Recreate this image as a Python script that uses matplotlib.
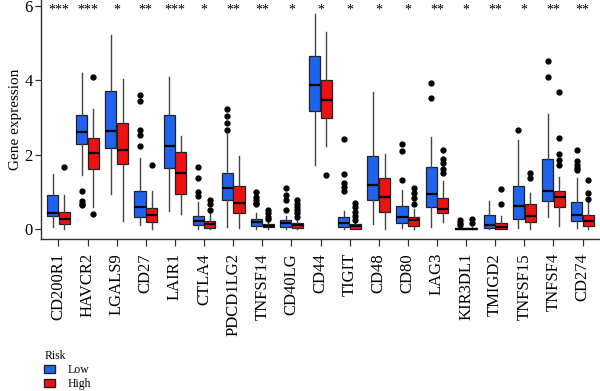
import matplotlib
matplotlib.use("Agg")
import matplotlib.pyplot as plt
from matplotlib.patches import Patch

plt.rcParams["font.family"] = ["Liberation Serif", "DejaVu Serif"]

genes = ["CD200R1", "HAVCR2", "LGALS9", "CD27", "LAIR1", "CTLA4", "PDCD1LG2",
         "TNFSF14", "CD40LG", "CD44", "TIGIT", "CD48", "CD80", "LAG3", "KIR3DL1",
         "TMIGD2", "TNFSF15", "TNFSF4", "CD274"]
signif = ["***", "***", "*", "**", "***", "*", "**", "**", "*", "*", "*", "*",
          "*", "**", "*", "**", "*", "**", "**"]

# (whislo, q1, median, q3, whishi)
low_stats = [
    (0.06, 0.35, 0.43, 0.92, 1.47),
    (1.46, 2.28, 2.62, 3.07, 4.20),
    (0.95, 2.17, 2.64, 3.71, 5.22),
    (0.11, 0.33, 0.60, 1.01, 1.90),
    (0.48, 1.64, 2.22, 3.06, 4.10),
    (0.00, 0.10, 0.22, 0.35, 0.73),
    (0.06, 0.79, 1.11, 1.51, 2.55),
    (0.00, 0.08, 0.19, 0.27, 0.42),
    (0.00, 0.06, 0.17, 0.24, 0.35),
    (1.72, 3.17, 3.87, 4.66, 5.78),
    (0.00, 0.04, 0.15, 0.31, 0.49),
    (0.13, 0.79, 1.17, 1.97, 3.68),
    (0.03, 0.15, 0.33, 0.61, 1.06),
    (0.06, 0.60, 0.93, 1.66, 2.48),
    (0.00, 0.00, 0.00, 0.03, 0.06),
    (0.00, 0.02, 0.11, 0.37, 0.75),
    (0.03, 0.27, 0.61, 1.15, 2.39),
    (0.33, 0.75, 1.01, 1.89, 3.08),
    (0.03, 0.22, 0.37, 0.72, 1.37),
]
low_out = [
    [], [1.02, 0.74, 0.68, 0.64], [], [3.60, 3.44, 2.66, 2.52, 2.22], [],
    [1.66, 1.37, 1.00, 0.90], [3.24, 3.05, 2.84, 2.66],
    [0.99, 0.86, 0.77, 0.71, 0.67], [1.10, 0.92, 0.79, 0.51], [],
    [2.41, 1.48, 1.24, 1.13, 1.02], [], [2.28, 2.11, 1.33], [3.93, 3.53],
    [0.24, 0.17, 0.11], [], [2.67], [4.52, 4.08],
    [2.13, 1.84, 1.71, 1.65, 1.59],
]
high_stats = [
    (0.00, 0.13, 0.27, 0.45, 0.92),
    (0.60, 1.60, 2.04, 2.44, 3.22),
    (0.21, 1.75, 2.13, 2.86, 4.04),
    (0.00, 0.19, 0.37, 0.57, 1.01),
    (0.39, 0.95, 1.51, 2.06, 2.50),
    (0.00, 0.02, 0.13, 0.21, 0.42),
    (0.02, 0.44, 0.70, 1.16, 1.95),
    (0.00, 0.04, 0.09, 0.13, 0.22),
    (0.00, 0.02, 0.11, 0.17, 0.24),
    (2.22, 2.99, 3.47, 4.00, 5.31),
    (0.00, 0.00, 0.09, 0.13, 0.20),
    (0.00, 0.46, 0.86, 1.37, 2.02),
    (0.00, 0.09, 0.24, 0.33, 0.55),
    (0.19, 0.42, 0.55, 0.83, 1.30),
    (0.00, 0.00, 0.00, 0.02, 0.05),
    (0.00, 0.00, 0.06, 0.15, 0.35),
    (0.00, 0.19, 0.35, 0.66, 0.98),
    (0.08, 0.59, 0.86, 1.02, 1.41),
    (0.00, 0.09, 0.22, 0.37, 0.75),
]
high_out = [
    [1.66], [4.10, 0.39], [], [1.71], [], [0.77, 0.67, 0.51],
    [], [0.52, 0.42, 0.33, 0.27], [0.77, 0.68, 0.59, 0.51, 0.42, 0.33], [1.46],
    [0.70, 0.58, 0.46, 0.35, 0.24], [], [1.11, 0.98, 0.84, 0.68],
    [2.13, 1.88, 1.78, 1.62, 1.50], [0.27, 0.15], [1.08, 0.68], [1.51, 1.37],
    [3.69, 2.46, 2.02, 1.86, 1.72], [1.32, 0.98, 0.80],
]

low_color = "#1f63ee"
high_color = "#ee1111"


def to_bxp(stats, outliers):
    out = []
    for (lo, q1, med, q3, hi), fl in zip(stats, outliers):
        out.append(dict(whislo=lo, q1=q1, med=med, q3=q3, whishi=hi, fliers=fl))
    return out


fig = plt.figure(figsize=(6, 3.91), dpi=100)
ax = fig.add_axes([41 / 600, 1 - 239 / 391, 1 - 41 / 600, 239 / 391])

x = list(range(len(genes)))
for stats, outs, off, col in [(low_stats, low_out, -0.2, low_color),
                              (high_stats, high_out, 0.2, high_color)]:
    ax.bxp(to_bxp(stats, outs), positions=[i + off for i in x], widths=0.38,
           patch_artist=True, manage_ticks=False,
           boxprops=dict(facecolor=col, edgecolor="#222222", linewidth=0.9),
           medianprops=dict(color="black", linewidth=1.6),
           whiskerprops=dict(color="#444444", linewidth=1.0),
           capprops=dict(linewidth=0),
           flierprops=dict(marker="o", markerfacecolor="black",
                           markeredgecolor="black", markersize=3.5))

for i, s in zip(x, signif):
    ax.text(i, 5.9, s, ha="center", va="center", fontsize=10)

ax.set_xlim(-0.6, len(genes) - 0.4)
ax.set_ylim(-0.27, 6.16)
ax.set_yticks([0, 2, 4, 6])
ax.set_xticks(x)
ax.set_xticklabels(genes, rotation=90, fontsize=12)
ax.tick_params(axis="y", labelsize=12, length=4, width=0.9, color="#333333", pad=2)
ax.tick_params(axis="x", length=5, width=0.9, color="#333333", pad=5)
ax.set_ylabel("Gene expression", fontsize=11, labelpad=2)
for side in ["top", "right"]:
    ax.spines[side].set_visible(False)
for side in ["left", "bottom"]:
    ax.spines[side].set_color("#333333")
    ax.spines[side].set_linewidth(1.0)

handles = [Patch(facecolor=low_color, edgecolor="#222222"),
           Patch(facecolor=high_color, edgecolor="#222222")]
leg = fig.legend(handles, ["Low", "High"], title="Risk", loc="upper left",
                 bbox_to_anchor=(36 / 600, 1 - 342 / 391), frameon=False,
                 fontsize=8.5, title_fontsize=8.5, handlelength=0.9, handleheight=0.7,
                 labelspacing=0.15, handletextpad=1.1, borderpad=0.2)
leg._legend_box.align = "left"

fig.savefig("out.png", dpi=100)
